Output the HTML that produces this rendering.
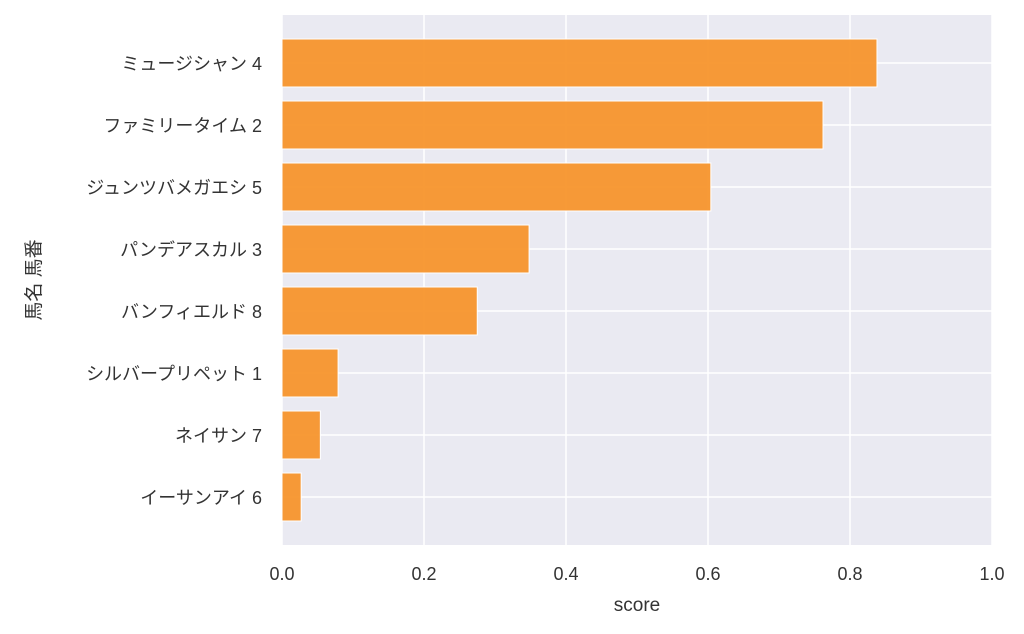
<!DOCTYPE html>
<html><head><meta charset="utf-8">
<style>
body{margin:0;background:#fff;}
svg text{font-family:"Liberation Sans","Noto Sans CJK JP",sans-serif;fill:#333;}
</style></head>
<body>
<svg id="chart" width="1024" height="629" xmlns="http://www.w3.org/2000/svg">
<rect x="282" y="15" width="710" height="530" fill="#eaeaf2"/>
<g id="grid"></g>
<g id="bars"></g>
<g id="labels"></g>
<text x="637" y="611" font-size="19" text-anchor="middle">score</text>
<text transform="translate(40,280) rotate(-90)" font-size="19" text-anchor="middle">馬名 馬番</text>
</svg>
<script>
const categories=["ミュージシャン 4","ファミリータイム 2","ジュンツバメガエシ 5","パンデアスカル 3","バンフィエルド 8","シルバープリペット 1","ネイサン 7","イーサンアイ 6"];
const scores=[0.838,0.762,0.604,0.348,0.275,0.079,0.054,0.027];
const xTicks=["0.0","0.2","0.4","0.6","0.8","1.0"];
const NS="http://www.w3.org/2000/svg";
const x0=282,x1=992,top0=15,bot=545;
const xScale=v=>x0+(x1-x0)*v;
const step=62,firstC=63;
const yScale=i=>firstC+i*step;
const grid=document.getElementById('grid'),bars=document.getElementById('bars'),labels=document.getElementById('labels');
function mk(tag,attrs,parent){const e=document.createElementNS(NS,tag);for(const k in attrs)e.setAttribute(k,attrs[k]);parent.appendChild(e);return e;}
xTicks.forEach((t,i)=>{
  const x=xScale(parseFloat(t));
  const l=mk('line',{x1:x,x2:x,y1:top0,y2:bot,stroke:'#fff','stroke-width':1.5},grid);
  
  
  const tx=mk('text',{x:x,y:580,'font-size':18,'text-anchor':'middle'},labels);
  tx.textContent=t;
  
  
});
categories.forEach((c,i)=>{
  const y=yScale(i);
  const l=mk('line',{x1:x0,x2:x1,y1:y,y2:y,stroke:'#fff','stroke-width':1.5},grid);
  
  
  const r=mk('rect',{x:x0,y:y-24,width:xScale(scores[i])-x0,height:48,fill:'#f7952c','fill-opacity':0.95,stroke:'#fff','stroke-width':1},bars);
  
  
  const tx=mk('text',{x:262,y:y+7,'font-size':18,'text-anchor':'end'},labels);
  tx.textContent=c;
  
  
});
</script>
</body></html>
